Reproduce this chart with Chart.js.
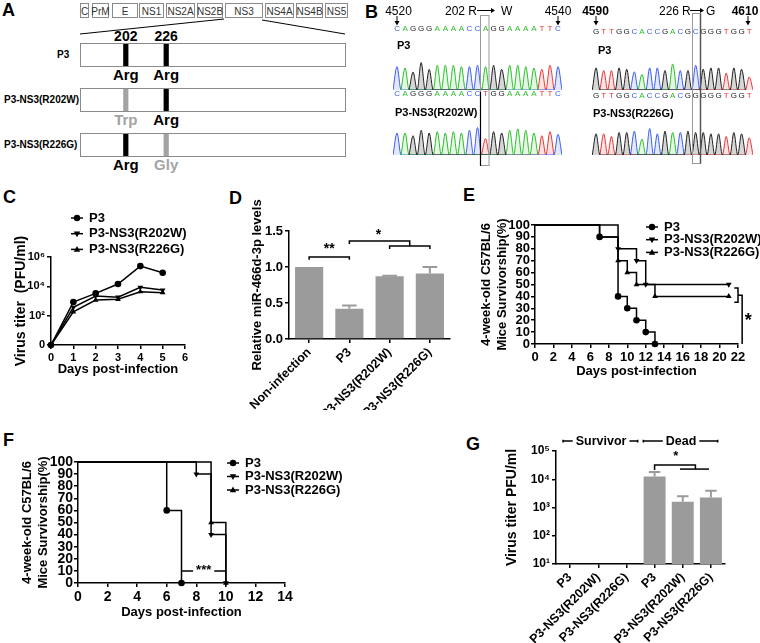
<!DOCTYPE html>
<html>
<head>
<meta charset="utf-8">
<title>NS3 R202W / R226G</title>
<script src="https://cdn.jsdelivr.net/npm/chart.js@4.4.1/dist/chart.umd.min.js"></script>
<style>
  body { margin: 0; background: #fff; }
  #page { position: relative; width: 760px; height: 643px; overflow: hidden; font-family: Arial, "Liberation Sans", sans-serif; }
  #page canvas { position: absolute; }
  .tag { position: absolute; font-weight: bold; font-size: 18px; line-height: 1; }
  svg { position: absolute; left: 0; top: 0; }
</style>
</head>
<body>
<div id="page">
  <div class="tag" style="left:2px;top:1px">A</div>
  <div class="tag" style="left:365px;top:3px">B</div>
  <div class="tag" style="left:3px;top:188px">C</div>
  <div class="tag" style="left:229px;top:189px">D</div>
  <div class="tag" style="left:463px;top:186px">E</div>
  <div class="tag" style="left:3px;top:431px">F</div>
  <div class="tag" style="left:466px;top:435px">G</div>
  <svg id="schema" width="360" height="178"></svg>
  <svg id="seqNotes" width="760" height="178" style="z-index:2"></svg>
</div>
<script>
const FONT = 'Arial, "Liberation Sans", sans-serif';

// ---------- data ----------
const seriesNames = ['P3', 'P3-NS3(R202W)', 'P3-NS3(R226G)'];

// C: growth curves (PFU/ml, the "0" tick is the axis floor)
const growthDays = [0, 1, 2, 3, 4, 5];
const titerP3 = [1, 850, 3300, 14400, 240000, 85000];
const titerR202W = [1, 370, 2200, 1800, 8600, 5600];
const titerR226G = [1, 185, 1170, 1300, 4300, 3700];
const titerTicks = [1, 1e2, 1e4, 1e6];
const titerTickLabels = ['0', '10²', '10⁴', '10⁶'];

// D: relative miR-466d-3p
const mirGroups = ['Non-infection', 'P3', 'P3-NS3(R202W)', 'P3-NS3(R226G)'];
const mirLevels = [1.0, 0.42, 0.87, 0.91];
const mirErrors = [0, 0.045, 0.01, 0.09];

// E: survival
const eDaysP3 = [0, 7, 9, 10, 11, 12, 13];
const eSurvP3 = [100, 90, 40, 30, 20, 10, 0];
const eDaysR202W = [0, 9, 11, 12, 21];
const eSurvR202W = [100, 80, 70, 50, 50];
const eDaysR226G = [0, 7, 9, 10, 11, 13, 21];
const eSurvR226G = [100, 90, 70, 60, 50, 40, 40];

// F: survival
const fDaysP3 = [0, 6, 7];
const fSurvP3 = [100, 60, 0];
const fDaysR202W = [0, 8, 9, 10];
const fSurvR202W = [100, 90, 40, 0];
const fDaysR226G = [0, 9, 10];
const fSurvR226G = [100, 50, 0];

// G: titers in survivors / dead mice
const deadGroups = ['P3', 'P3-NS3(R202W)', 'P3-NS3(R226G)', 'P3', 'P3-NS3(R202W)', 'P3-NS3(R226G)'];
const deadTiter = [null, null, null, 12500, 1600, 2250];
const deadTiterErr = [null, null, null, 5500, 900, 1700];
const gTicks = [1e1, 1e2, 1e3, 1e4, 1e5];
const gTickLabels = ['10¹', '10²', '10³', '10⁴', '10⁵'];

// B: chromatogram base calls and relative peak heights
const seq202wt = 'CAGGGAAAACCAGGAAAATTC';
const peaks202wt = [0.85, 0.8, 0.65, 1.0, 0.75, 0.9, 0.9, 0.9, 0.85, 0.85, 0.9, 0.85, 0.9, 0.75, 0.9, 0.9, 0.85, 0.8, 0.75, 0.9, 0.85];
const seq202mut = 'CAGGGAAAACCTGGAAAATTC';
const peaks202mut = [0.8, 0.8, 0.7, 0.9, 0.8, 0.85, 0.8, 0.85, 0.8, 0.9, 1.0, 0.6, 0.85, 0.8, 0.9, 0.95, 0.9, 0.8, 0.7, 0.85, 0.75];
const seq226wt = 'GTTGGCACCGACGCGGGTGGT';
const peaks226wt = [0.85, 0.75, 0.75, 0.85, 0.8, 0.7, 0.6, 0.85, 0.85, 0.75, 1.0, 0.75, 0.75, 0.95, 0.8, 0.85, 0.85, 0.65, 0.85, 0.8, 0.5];
const seq226mut = 'GTTGGCACCGACGGGGGTGGT';
const peaks226mut = [0.8, 0.8, 0.7, 0.85, 0.85, 0.9, 0.6, 1.0, 0.8, 0.9, 0.85, 0.85, 0.9, 0.85, 0.85, 0.8, 0.8, 0.7, 0.85, 0.8, 0.65];

// A: genome map
const genomeSegments = [['C', 80, 88], ['PrM', 92, 108], ['E', 112, 137], ['NS1', 139, 163], ['NS2A', 166, 194],
  ['NS2B', 197, 222], ['NS3', 225, 262], ['NS4A', 265, 293], ['NS4B', 296, 322], ['NS5', 325, 347]];
const residues = [['Arg', 'Arg'], ['Trp', 'Arg'], ['Arg', 'Gly']];
const mutated = [[false, false], [true, false], [false, true]];

// ---------- setup ----------
Chart.defaults.font.family = FONT;
Chart.defaults.font.weight = 'bold';
Chart.defaults.color = '#000';
Chart.defaults.animation = false;
Chart.defaults.events = [];
Chart.defaults.plugins.legend.display = false;
Chart.defaults.plugins.tooltip.enabled = false;

const page = document.getElementById('page');
function place(left, top, w, h) {
  const c = document.createElement('canvas');
  c.width = w; c.height = h;
  c.style.left = left + 'px'; c.style.top = top + 'px';
  c.style.width = w + 'px'; c.style.height = h + 'px';
  page.appendChild(c);
  return c;
}

function axis(o) {
  const {ticks = {}, grid = {}, ...rest} = o;
  return {
    border: {color: '#000', width: 1.5},
    grid: {drawOnChartArea: false, color: '#000', lineWidth: 1.5, tickLength: 4, ...grid},
    ticks: {color: '#000', padding: 2, autoSkip: false, maxRotation: 0, ...ticks},
    ...rest
  };
}

function drawMarker(ctx, kind, x, y, r) {
  ctx.beginPath();
  if (kind === 'circle') {
    ctx.arc(x, y, r, 0, Math.PI * 2);
  } else {
    const s = kind === 'down' ? -1 : 1;
    ctx.moveTo(x, y - s * r * 1.1);
    ctx.lineTo(x + r, y + s * r * 0.7);
    ctx.lineTo(x - r, y + s * r * 0.7);
    ctx.closePath();
  }
  ctx.fill();
}

const keyList = (x, y, dy, size) => ({
  id: 'keyList',
  afterDraw(chart) {
    const ctx = chart.ctx;
    ctx.save();
    ctx.font = `bold ${size}px ${FONT}`;
    ctx.textBaseline = 'middle';
    ctx.fillStyle = '#000'; ctx.strokeStyle = '#000'; ctx.lineWidth = 1.5;
    chart.data.datasets.forEach((ds, i) => {
      const yy = y + i * dy;
      ctx.beginPath(); ctx.moveTo(x - 6, yy); ctx.lineTo(x + 6, yy); ctx.stroke();
      drawMarker(ctx, ds.marker, x, yy, 3.2);
      ctx.fillText(ds.label, x + 12, yy);
    });
    ctx.restore();
  }
});

const marks = (spec) => ({
  id: 'marks',
  afterDraw(chart) {
    const {ctx, scales: {x, y}} = chart;
    const px = v => x.getPixelForValue(v), py = v => y.getPixelForValue(v);
    ctx.save();
    ctx.strokeStyle = '#000'; ctx.lineWidth = 1.5;
    (spec.paths || []).forEach(p => {
      ctx.beginPath();
      p.forEach(([a, b], i) => i ? ctx.lineTo(px(a), py(b)) : ctx.moveTo(px(a), py(b)));
      ctx.stroke();
    });
    ctx.textAlign = 'center'; ctx.textBaseline = 'middle';
    (spec.texts || []).forEach(t => {
      ctx.font = `bold ${t.size}px ${FONT}`;
      const cx = px(t.x), cy = py(t.y);
      if (t.bg) {
        const w = ctx.measureText(t.text).width;
        ctx.fillStyle = '#fff';
        ctx.fillRect(cx - w / 2 - 3, cy - t.size / 2, w + 6, t.size);
      }
      ctx.fillStyle = '#000';
      ctx.fillText(t.text, cx, cy);
    });
    ctx.restore();
  }
});

const whiskers = (errs) => ({
  id: 'whiskers',
  afterDatasetsDraw(chart) {
    const ctx = chart.ctx, y = chart.scales.y, ds = chart.data.datasets[0];
    ctx.save();
    ctx.strokeStyle = ds.backgroundColor; ctx.lineWidth = 2;
    chart.getDatasetMeta(0).data.forEach((bar, i) => {
      const v = ds.data[i], e = errs[i];
      if (v == null || !e) return;
      const top = y.getPixelForValue(v + e), half = bar.width * 0.26;
      ctx.beginPath();
      ctx.moveTo(bar.x, bar.y); ctx.lineTo(bar.x, top);
      ctx.moveTo(bar.x - half, top); ctx.lineTo(bar.x + half, top);
      ctx.stroke();
    });
    ctx.restore();
  }
});

function lineSet(label, marker, xs, ys, stepped) {
  return {
    label, marker,
    data: xs.map((d, i) => ({x: d, y: ys[i]})),
    stepped: stepped ? 'before' : false,
    borderColor: '#000', borderWidth: 1.5,
    pointStyle: marker === 'circle' ? 'circle' : 'triangle',
    rotation: marker === 'down' ? 180 : 0,
    pointRadius: xs.map((d, i) => (stepped && i === 0) ? 0 : 3.3),
    pointBackgroundColor: '#000', pointBorderColor: '#000', pointBorderWidth: 0,
    clip: false
  };
}

// ---------- C ----------
new Chart(place(0, 200, 250, 185), {
  type: 'line',
  data: {datasets: [
    lineSet(seriesNames[0], 'circle', growthDays, titerP3),
    lineSet(seriesNames[1], 'down', growthDays, titerR202W),
    lineSet(seriesNames[2], 'up', growthDays, titerR226G)
  ]},
  options: {
    responsive: false,
    layout: {padding: {top: 57, right: 65, left: 0, bottom: 0}},
    scales: {
      x: axis({type: 'linear', min: 0, max: 6, ticks: {stepSize: 1, font: {size: 11}},
        afterFit: s => { s.height = 40; },
        title: {display: true, text: 'Days post-infection', font: {size: 13}, padding: {top: 0, bottom: 8}}}),
      y: axis({type: 'logarithmic', min: 1, max: 1e6,
        afterBuildTicks: s => { s.ticks = titerTicks.map(v => ({value: v})); },
        ticks: {font: {size: 11}, callback: (v, i) => titerTickLabels[i]},
        afterFit: s => { s.width = 51; },
        title: {display: true, text: 'Virus titer  (PFU/ml)', font: {size: 14}, padding: {top: 13, bottom: 0}}})
    }
  },
  plugins: [keyList(77, 18, 15.7, 13)]
});

// ---------- D ----------
new Chart(place(240, 180, 225, 230), {
  type: 'bar',
  data: {labels: mirGroups, datasets: [{data: mirLevels, backgroundColor: '#9b9b9b', barPercentage: 0.7, categoryPercentage: 1}]},
  options: {
    responsive: false,
    layout: {padding: {top: 51, right: 15, left: 0, bottom: 0}},
    scales: {
      x: axis({grid: {offset: false}, ticks: {minRotation: 45, maxRotation: 45, font: {size: 12.5}},
        afterFit: s => { s.height = 71; }}),
      y: axis({min: 0, max: 1.5, ticks: {stepSize: 0.5, font: {size: 13}, callback: v => v.toFixed(1)},
        afterFit: s => { s.width = 49; },
        title: {display: true, text: 'Relative miR-466d-3p levels', font: {size: 13}, padding: {top: 10, bottom: 0}}})
    }
  },
  plugins: [whiskers(mirErrors), marks({
    paths: [
      [[0, 1.10], [0, 1.14], [1, 1.14], [1, 1.10]],
      [[1, 1.32], [1, 1.36], [2.5, 1.36], [2.5, 1.29]],
      [[2, 1.25], [2, 1.29], [3, 1.29], [3, 1.25]]
    ],
    texts: [{x: 0.5, y: 1.25, text: '**', size: 14}, {x: 1.72, y: 1.44, text: '*', size: 14}]
  })]
});

// ---------- E ----------
new Chart(place(478, 200, 282, 185), {
  type: 'line',
  data: {datasets: [
    lineSet(seriesNames[0], 'circle', eDaysP3, eSurvP3, true),
    lineSet(seriesNames[1], 'down', eDaysR202W, eSurvR202W, true),
    lineSet(seriesNames[2], 'up', eDaysR226G, eSurvR226G, true)
  ]},
  options: {
    responsive: false,
    layout: {padding: {top: 25, right: 22, left: 0, bottom: 0}},
    scales: {
      x: axis({type: 'linear', min: 0, max: 22, ticks: {stepSize: 2, font: {size: 13}},
        afterFit: s => { s.height = 41; },
        title: {display: true, text: 'Days post-infection', font: {size: 13}, padding: {top: 0, bottom: 6}}}),
      y: axis({min: 0, max: 100, ticks: {stepSize: 10, font: {size: 13}, padding: 1},
        afterFit: s => { s.width = 57; },
        title: {display: true, text: ['4-week-old C57BL/6', 'Mice Survivorship(%)'], font: {size: 13}, padding: {top: 1, bottom: 0}}})
    }
  },
  plugins: [keyList(174, 27, 12.7, 13), marks({
    paths: [
      [[21.6, 47], [22.0, 47], [22.0, 35], [21.6, 35]],
      [[22.0, 41], [22.45, 41], [22.45, 0]]
    ],
    texts: [{x: 23.1, y: 19, text: '*', size: 18}]
  })]
});

// ---------- F ----------
new Chart(place(0, 420, 380, 210), {
  type: 'line',
  data: {datasets: [
    lineSet(seriesNames[0], 'circle', fDaysP3, fSurvP3, true),
    lineSet(seriesNames[1], 'down', fDaysR202W, fSurvR202W, true),
    lineSet(seriesNames[2], 'up', fDaysR226G, fSurvR226G, true)
  ]},
  options: {
    responsive: false,
    layout: {padding: {top: 42, right: 95, left: 0, bottom: 0}},
    scales: {
      x: axis({type: 'linear', min: 0, max: 14, ticks: {stepSize: 2, font: {size: 14}},
        afterFit: s => { s.height = 47; },
        title: {display: true, text: 'Days post-infection', font: {size: 13}, padding: {top: 0, bottom: 10}}}),
      y: axis({min: 0, max: 100, ticks: {stepSize: 10, font: {size: 14}, padding: 1},
        afterFit: s => { s.width = 78; },
        title: {display: true, text: ['4-week-old C57BL/6', 'Mice Survivorship(%)'], font: {size: 13}, padding: {top: 20, bottom: 0}}})
    }
  },
  plugins: [keyList(233, 43, 13.5, 13), marks({
    paths: [[[7, 10], [10, 10]]],
    texts: [{x: 8.5, y: 10, text: '***', size: 13, bg: true}]
  })]
});

// ---------- G ----------
new Chart(place(500, 420, 240, 223), {
  type: 'bar',
  data: {labels: deadGroups, datasets: [{data: deadTiter, backgroundColor: '#9b9b9b', barPercentage: 0.78, categoryPercentage: 1}]},
  options: {
    responsive: false,
    layout: {padding: {top: 31, right: 15, left: 0, bottom: 0}},
    scales: {
      x: axis({grid: {offset: false}, ticks: {minRotation: 45, maxRotation: 45, font: {size: 12.5}},
        afterFit: s => { s.height = 79; }}),
      y: axis({type: 'logarithmic', min: 10, max: 1e5,
        afterBuildTicks: s => { s.ticks = gTicks.map(v => ({value: v})); },
        ticks: {font: {size: 12}, callback: (v, i) => gTickLabels[i]},
        afterFit: s => { s.width = 56; },
        title: {display: true, text: 'Virus titer PFU/ml', font: {size: 14}, padding: {top: 4, bottom: 0}}})
    }
  },
  plugins: [whiskers(deadTiterErr), marks({
    paths: [
      [[-0.25, 2.0e5], [-0.25, 2.5e5]], [[-0.25, 2.24e5], [2.4, 2.24e5]], [[2.4, 2.0e5], [2.4, 2.5e5]],
      [[2.6, 2.0e5], [2.6, 2.5e5]], [[2.6, 2.24e5], [5.24, 2.24e5]], [[5.24, 2.0e5], [5.24, 2.5e5]],
      [[3, 21400], [3, 32000], [4.45, 32000], [4.45, 22900]],
      [[3.9, 22900], [4.93, 22900]]
    ],
    texts: [
      {x: 1.1, y: 2.24e5, text: 'Survivor', size: 12.5, bg: true},
      {x: 3.94, y: 2.24e5, text: 'Dead', size: 12.5, bg: true},
      {x: 3.75, y: 66000, text: '*', size: 13}
    ]
  })]
});

// ---------- B: chromatograms ----------
const baseColors = {A: '#2bbd2b', C: '#3a5cf0', G: '#202020', T: '#e53535'};
const baseFills = {A: 'rgba(60,200,60,0.14)', C: 'rgba(60,90,240,0.14)', G: 'rgba(0,0,0,0.16)', T: 'rgba(230,50,50,0.14)'};

function traceSets(seq, heights) {
  return 'GACT'.split('').map(b => {
    const pts = [];
    for (let i = 0; i < seq.length; i++) {
      if (seq[i] !== b) continue;
      if (!pts.length || pts[pts.length - 1].x !== i - 0.5) pts.push({x: i - 0.5, y: 0});
      pts.push({x: i, y: heights[i]});
      pts.push({x: i + 0.5, y: 0});
    }
    return {data: pts, borderColor: baseColors[b], backgroundColor: baseFills[b], fill: 'origin',
      borderWidth: 1, pointRadius: 0, cubicInterpolationMode: 'monotone', clip: false};
  });
}

function trace(left, top, w, h, seq, heights) {
  new Chart(place(left, top, w, h), {
    type: 'line',
    data: {datasets: traceSets(seq, heights)},
    options: {
      responsive: false,
      layout: {padding: 0},
      scales: {
        x: {type: 'linear', position: 'top', min: -0.5, max: seq.length - 0.5,
          afterBuildTicks: s => { s.ticks = seq.split('').map((c, i) => ({value: i})); },
          ticks: {autoSkip: false, maxRotation: 0, padding: 1, font: {size: 8, weight: 'normal'},
            color: c => baseColors[seq[c.tick.value]] || '#000', callback: v => seq[v]},
          grid: {display: false, drawTicks: false}, border: {display: false},
          afterFit: s => { s.height = 12; }},
        y: {display: false, min: 0, max: 2.0}
      }
    }
  });
}
trace(393, 23, 169, 67, seq202wt, peaks202wt);
trace(393, 88, 169, 67, seq202mut, peaks202mut);
trace(592, 26, 161, 64, seq226wt, peaks226wt);
trace(592, 90, 161, 65, seq226mut, peaks226mut);

// ---------- A + B annotations (svg) ----------
const NS = 'http://www.w3.org/2000/svg';
function svgAdd(svg, tag, attrs, text) {
  const el = document.createElementNS(NS, tag);
  for (const k in attrs) el.setAttribute(k, attrs[k]);
  if (text != null) el.textContent = text;
  svg.appendChild(el);
  return el;
}

const schema = document.getElementById('schema');
schema.setAttribute('font-family', FONT);
genomeSegments.forEach(([name, x0, x1]) => {
  svgAdd(schema, 'rect', {x: x0 + 0.5, y: 3.5, width: x1 - x0, height: 14, fill: '#fff', stroke: '#8a8a8a'});
  svgAdd(schema, 'text', {x: (x0 + x1) / 2 + 0.5, y: 14.5, 'text-anchor': 'middle', 'font-size': 10, fill: '#333'}, name);
});
svgAdd(schema, 'line', {x1: 224, y1: 19, x2: 80, y2: 34, stroke: '#000'});
svgAdd(schema, 'line', {x1: 262, y1: 20, x2: 345, y2: 34, stroke: '#000'});
const siteX = [125.8, 166.2];
['202', '226'].forEach((t, k) => svgAdd(schema, 'text', {x: siteX[k], y: 41, 'text-anchor': 'middle', 'font-size': 14, 'font-weight': 'bold'}, t));
const rowTops = [43, 88, 133];
seriesNames.forEach((name, r) => {
  const top = rowTops[r];
  svgAdd(schema, 'rect', {x: 80.5, y: top + 0.5, width: 265, height: 23, fill: '#fff', stroke: '#8a8a8a'});
  svgAdd(schema, 'text', {x: r ? 4 : 57, y: top + 15, 'font-size': 10, 'font-weight': 'bold'}, name);
  residues[r].forEach((aa, k) => {
    const col = mutated[r][k] ? '#a3a3a3' : '#000';
    svgAdd(schema, 'rect', {x: siteX[k] - 2.6, y: top + 1, width: 5.2, height: 22, fill: col});
    svgAdd(schema, 'text', {x: siteX[k], y: top + 37, 'text-anchor': 'middle', 'font-size': 15, 'font-weight': 'bold', fill: col}, aa);
  });
});

const notes = document.getElementById('seqNotes');
notes.setAttribute('font-family', FONT);
notes.style.pointerEvents = 'none';
function note(x, y, s, size, weight, anchor) {
  svgAdd(notes, 'text', {x, y, 'font-size': size, 'font-weight': weight, 'text-anchor': anchor || 'middle', fill: '#000'}, s);
}
function downArrow(x) {
  svgAdd(notes, 'line', {x1: x, y1: 16, x2: x, y2: 24, stroke: '#000', 'stroke-width': 1});
  svgAdd(notes, 'path', {d: `M${x - 2.5},21 L${x},25.5 L${x + 2.5},21 Z`, fill: '#000'});
}
function rightArrow(x0, x1, y) {
  svgAdd(notes, 'line', {x1: x0, y1: y, x2: x1 - 3, y2: y, stroke: '#000', 'stroke-width': 1});
  svgAdd(notes, 'path', {d: `M${x1 - 4},${y - 2.5} L${x1},${y} L${x1 - 4},${y + 2.5} Z`, fill: '#000'});
}
note(398.5, 14.5, '4520', 12, 'normal');
downArrow(397);
note(445, 14.5, '202 R', 12, 'normal', 'start');
rightArrow(477, 495, 10.5);
note(501, 14.5, 'W', 12, 'normal', 'start');
note(558, 14.5, '4540', 12, 'normal');
downArrow(558);
note(595.5, 14.5, '4590', 12, 'bold');
downArrow(596);
note(659, 14.5, '226', 12, 'normal', 'start');
note(682, 14.5, 'R', 12, 'normal', 'start');
rightArrow(690, 704, 10.5);
note(706, 14.5, 'G', 12, 'normal', 'start');
note(745, 14.5, '4610', 12, 'bold');
downArrow(748);
note(397, 49, 'P3', 11, 'bold', 'start');
note(395, 116, 'P3-NS3(R202W)', 11, 'bold', 'start');
note(598, 54, 'P3', 11, 'bold', 'start');
note(593, 117, 'P3-NS3(R226G)', 11, 'bold', 'start');
svgAdd(notes, 'rect', {x: 480.5, y: 15.5, width: 8.5, height: 150, fill: 'none', stroke: '#9a9a9a'});
svgAdd(notes, 'line', {x1: 480.5, y1: 92, x2: 480.5, y2: 166, stroke: '#000', 'stroke-width': 1.2});
svgAdd(notes, 'rect', {x: 692.5, y: 13.5, width: 8, height: 150, fill: 'none', stroke: '#9a9a9a'});
svgAdd(notes, 'line', {x1: 700.5, y1: 13.5, x2: 700.5, y2: 163.5, stroke: '#555', 'stroke-width': 1.5});
</script>
</body>
</html>
